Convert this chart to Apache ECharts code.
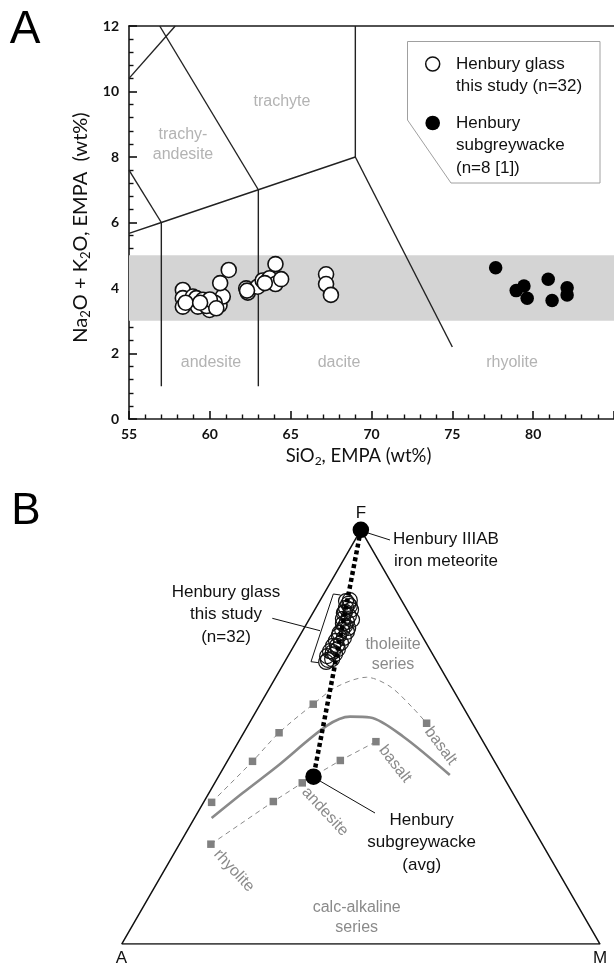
<!DOCTYPE html>
<html><head><meta charset="utf-8">
<script src="https://cdn.jsdelivr.net/npm/echarts@6/dist/echarts.min.js"></script>
<style>html,body{margin:0;padding:0;background:#fff}#c{width:614px;height:968px}</style>
</head><body><div id="c"></div>
<script>
// ---------- Panel A: TAS diagram ----------
const xTicks = [55, 60, 65, 70, 75, 80];
const yTicks = [0, 2, 4, 6, 8, 10, 12];
const glassSiO2 = [58.33,58.33,58.33,58.95,59.16,59.26,59.57,59.98,60.09,60.60,60.80,60.64,61.17,62.25,62.35,62.96,63.27,63.69,64.06,64.06,64.41,67.19,67.19,67.49,59.8,60.3,58.5,60.0,62.3,63.4,59.4,60.4];
const glassAlk  = [3.94,3.69,3.43,3.74,3.69,3.43,3.64,3.33,3.59,3.48,3.74,4.15,4.55,3.99,3.86,4.04,4.23,4.30,4.73,4.12,4.27,4.42,4.12,3.79,3.45,3.55,3.55,3.65,3.92,4.15,3.55,3.38];
const sgwSiO2 = [77.68,78.95,79.43,79.63,80.93,81.17,82.1,82.1];
const sgwAlk  = [4.62,3.92,4.06,3.69,4.27,3.62,4.01,3.79];
const bandRange = [3, 5];
const tasLines = [
  [[57,1],[57,6]],
  [[63,1],[63,7]],
  [[55,5.67],[57,6],[63,7],[69,8]],
  [[69,8],[75,2.2]],
  [[69,8],[69,12]],
  [[55,7.6],[57,6]],
  [[63,7],[56.9,12]],
  [[55,10.4],[57.86,12]]
];

// ---------- Panel B: AFM ternary (A, F, M in %) ----------
const glassA = [10.8,11.6,12.5,11.7,13.6,12.9,14.5,14.0,12.7,14.9,16.0,15.2,17.4,16.6,18.6,17.8,19.8,19.2,21.1,20.4,22.3,21.6,23.2,11.7,11.5,15.1,14.5,16.9,19.0,22.6,13.2,20.6];
const glassF = [83.0,82.1,81.1,80.6,79.9,79.2,78.5,77.7,78.2,76.8,75.8,75.3,74.4,73.9,73.2,72.7,72.0,71.2,70.7,70.0,69.5,68.8,68.1,82.8,81.6,77.3,76.3,75.1,72.0,68.6,80.2,70.5];
const glassM = [6.2,6.3,6.3,7.6,6.5,7.9,7.0,8.2,9.0,8.3,8.2,9.4,8.2,9.5,8.2,9.5,8.2,9.6,8.2,9.6,8.2,9.6,8.7,5.5,6.9,7.6,9.2,8.0,9.0,8.8,6.6,8.9];
const meteoriteAFM = [0, 100, 0];
const subgreywackeAFM = [39.7, 40.4, 19.9];
const triangleAFM = [[100,0,0],[0,0,100],[0,100,0],[100,0,0]];
const boundaryAFM = [[66.0,30.4,3.6],[56.4,36.5,7.1],[46.2,42.8,11.0],[30.8,52.6,16.5],[24.8,54.9,20.3],[20.7,54.7,24.6],[16.1,50.1,33.9],[11.0,40.8,48.2]];
const tholeiiteTrendAFM = [[64.1,34.2,1.7],[50.6,44.1,5.3],[41.6,51.0,7.4],[31.0,57.9,11.1],[24.0,62.1,13.9],[16.6,64.4,19.0],[12.8,62.1,25.0],[10.6,56.9,32.5],[9.6,53.3,37.1]];
const tholeiiteSquaresAFM = [[64.1,34.2,1.7],[50.6,44.1,5.3],[41.6,51.0,7.4],[31.0,57.9,11.1],[9.6,53.3,37.1]];
const calcAlkTrendAFM = [[69.3,24.1,6.6],[51.1,34.4,14.5],[42.8,38.9,18.3],[32.2,44.4,23.6],[22.4,48.8,28.7]];

const H = Math.sqrt(3) / 2;
function tern(p) { const s = p[0] + p[1] + p[2]; return [(p[2] + p[1] / 2) / s, p[1] / s * H]; }
const zip = (a, b) => a.map((v, i) => [v, b[i]]);

const LS = '"Liberation Sans", Arial, sans-serif';
const CAL = 'Lato, "Liberation Sans", sans-serif';
const chart = echarts.init(document.getElementById('c'), null, { renderer: 'canvas' });

const tasSeries = tasLines.map(seg => ({
  type: 'line', xAxisIndex: 0, yAxisIndex: 0, data: seg, symbol: 'none', silent: true, z: 2,
  lineStyle: { color: '#222', width: 1.4 }, animation: false
}));

const regionText = (t, x, y) => ({ type: 'text', x, y, z: 3, style: { text: t, fill: '#b3b3b3', font: '16px ' + LS, align: 'center', verticalAlign: 'middle', lineHeight: 20 } });
const grayText = (t, x, y, rot) => ({ type: 'text', x, y, rotation: rot || 0, z: 3, style: { text: t, fill: '#8a8a8a', font: '16px ' + LS, align: 'center', verticalAlign: 'middle', lineHeight: 20 } });
const blackText = (t, x, y, align) => ({ type: 'text', x, y, z: 30, style: { text: t, fill: '#111', font: '17px ' + LS, align: align || 'center', verticalAlign: 'middle', lineHeight: 22.5 } });
const seg = (pts, w) => ({ type: 'polyline', z: 30, shape: { points: pts }, style: { stroke: '#111', lineWidth: w || 1, fill: null } });
const deg = d => d * Math.PI / 180;

const option = {
  animation: false,
  backgroundColor: '#fff',
  grid: [
    { left: 129, top: 26, width: 485, height: 393 },
    { left: 121.7, top: 529.8, width: 478.3, height: 414.2 }
  ],
  xAxis: [
    { gridIndex: 0, type: 'value', min: xTicks[0], max: 85, interval: xTicks[1] - xTicks[0],
      axisLine: { show: true, onZero: false, lineStyle: { color: '#1a1a1a', width: 1.6 } },
      axisTick: { show: true, inside: true, length: 8, lineStyle: { color: '#111', width: 1.6 } },
      minorTick: { show: true, splitNumber: 5, length: 4.5, lineStyle: { color: '#111', width: 1.4 } },
      splitLine: { show: false },
      axisLabel: { showMaxLabel: false, fontFamily: CAL, fontWeight: 'bold', fontSize: 14, color: '#111', margin: 8 },
      name: 'SiO{s|2}, EMPA (wt%)', nameLocation: 'middle', nameGap: 26,
      nameTextStyle: { fontFamily: CAL, fontSize: 18.5, color: '#111', lineHeight: 22, padding: [0, 26, 0, 0],
        rich: { s: { fontFamily: CAL, fontSize: 12, lineHeight: 12, verticalAlign: 'bottom' } } } },
    { gridIndex: 0, type: 'value', position: 'top', min: xTicks[0], max: 85,
      axisLine: { show: true, onZero: false, lineStyle: { color: '#1a1a1a', width: 1.6 } }, axisTick: { show: false }, axisLabel: { show: false }, splitLine: { show: false } },
    { gridIndex: 1, type: 'value', min: 0, max: 1, show: false }
  ],
  yAxis: [
    { gridIndex: 0, type: 'value', min: yTicks[0], max: yTicks[yTicks.length - 1], interval: yTicks[1] - yTicks[0],
      axisLine: { show: true, onZero: false, lineStyle: { color: '#1a1a1a', width: 1.6 } },
      axisTick: { show: true, inside: true, length: 8, lineStyle: { color: '#111', width: 1.6 } },
      minorTick: { show: true, splitNumber: 5, length: 4.5, lineStyle: { color: '#111', width: 1.4 } },
      splitLine: { show: false },
      axisLabel: { fontFamily: CAL, fontWeight: 'bold', fontSize: 14, color: '#111', margin: 10 },
      name: 'Na{s|2}O + K{s|2}O, EMPA  (wt%)', nameLocation: 'middle', nameGap: 35,
      nameTextStyle: { fontFamily: CAL, fontSize: 20, color: '#111', lineHeight: 22, padding: [0, 10, 0, 0],
        rich: { s: { fontFamily: CAL, fontSize: 13, lineHeight: 12, verticalAlign: 'bottom' } } } },
    { gridIndex: 1, type: 'value', min: 0, max: H, show: false }
  ],
  series: [
    { type: 'line', xAxisIndex: 0, yAxisIndex: 0, data: [[xTicks[0], bandRange[0]], [85, bandRange[0]]], symbol: 'none', z: 1,
      lineStyle: { opacity: 0 }, silent: true,
      markArea: { silent: true, itemStyle: { color: '#d4d4d4' }, data: [[{ yAxis: bandRange[0] }, { yAxis: bandRange[1] }]] } },
    ...tasSeries,
    { name: 'Henbury glass', type: 'scatter', xAxisIndex: 0, yAxisIndex: 0, data: zip(glassSiO2, glassAlk), symbolSize: 15, z: 5,
      itemStyle: { color: '#fff', borderColor: '#111', borderWidth: 1.6, opacity: 1 } },
    { name: 'Henbury subgreywacke', type: 'scatter', xAxisIndex: 0, yAxisIndex: 0, data: zip(sgwSiO2, sgwAlk), symbolSize: 13.5, z: 5,
      itemStyle: { color: '#000', opacity: 1 } },

    // Panel B
    { type: 'line', xAxisIndex: 2, yAxisIndex: 1, data: triangleAFM.map(tern), symbol: 'none', z: 2,
      lineStyle: { color: '#111', width: 1.5 } },
    { type: 'line', xAxisIndex: 2, yAxisIndex: 1, data: boundaryAFM.map(tern), symbol: 'none', smooth: 0.3, z: 2,
      lineStyle: { color: '#8a8a8a', width: 2.6 } },
    { type: 'line', xAxisIndex: 2, yAxisIndex: 1, data: tholeiiteTrendAFM.map(tern), symbol: 'none', smooth: 0.3, z: 2,
      lineStyle: { color: '#8a8a8a', width: 1, type: [5, 4] } },
    { type: 'scatter', xAxisIndex: 2, yAxisIndex: 1, data: tholeiiteSquaresAFM.map(tern), symbol: 'rect', symbolSize: 7.5, z: 3,
      itemStyle: { color: '#808080', opacity: 1 } },
    { type: 'line', xAxisIndex: 2, yAxisIndex: 1, data: calcAlkTrendAFM.map(tern), symbol: 'rect', symbolSize: 7.5, showSymbol: true, z: 3,
      itemStyle: { color: '#808080', opacity: 1 }, lineStyle: { color: '#8a8a8a', width: 1, type: [5, 4] } },
    { type: 'scatter', xAxisIndex: 2, yAxisIndex: 1, data: glassA.map((a, i) => tern([a, glassF[i], glassM[i]])), symbolSize: 15, z: 4,
      itemStyle: { color: 'rgba(255,255,255,0)', borderColor: '#111', borderWidth: 1.2, opacity: 1 } },
    { type: 'line', xAxisIndex: 2, yAxisIndex: 1, data: [tern(meteoriteAFM), tern(subgreywackeAFM)], symbol: 'none', z: 5,
      lineStyle: { color: '#000', width: 4.5, type: [4, 3], cap: 'butt' } },
    { type: 'scatter', xAxisIndex: 2, yAxisIndex: 1, data: [tern(meteoriteAFM), tern(subgreywackeAFM)], symbolSize: 16.5, z: 6,
      itemStyle: { color: '#000', opacity: 1 } }
  ],
  graphic: [
    { type: 'text', x: 25, y: 30, z: 30, style: { text: 'A', font: '46px ' + LS, fill: '#000', align: 'center', verticalAlign: 'middle' } },
    { type: 'text', x: 26, y: 512, z: 30, style: { text: 'B', font: '44px ' + LS, fill: '#000', align: 'center', verticalAlign: 'middle' } },
    regionText('trachyte', 282, 102),
    regionText('trachy-\nandesite', 183, 145),
    regionText('andesite', 211, 363),
    regionText('dacite', 339, 363),
    regionText('rhyolite', 512, 363),
    { type: 'polygon', z: 20, shape: { points: [[407.5, 41.5], [600, 41.5], [600, 183], [451, 183], [407.5, 120]] }, style: { fill: '#fff', stroke: '#a0a0a0', lineWidth: 1 } },
    { type: 'circle', z: 21, shape: { cx: 432.7, cy: 64, r: 7 }, style: { fill: '#fff', stroke: '#111', lineWidth: 1.5 } },
    { type: 'circle', z: 21, shape: { cx: 432.7, cy: 123, r: 7.3 }, style: { fill: '#000' } },
    blackText('Henbury glass\nthis study (n=32)', 456, 75.5, 'left'),
    blackText('Henbury\nsubgreywacke\n(n=8 [1])', 456, 145.5, 'left'),
    blackText('F', 361, 513),
    blackText('A', 121.5, 958),
    blackText('M', 600, 958),
    blackText('Henbury IIIAB\niron meteorite', 446, 550.5),
    blackText('Henbury glass\nthis study\n(n=32)', 226, 614.5),
    blackText('Henbury\nsubgreywacke\n(avg)', 421.7, 842.5),
    seg([[368, 533], [390, 540]]),
    seg([[272.3, 618.3], [320, 630.7]]),
    seg([[340.5, 595], [333.3, 594], [311, 661.7], [318.5, 662.7]]),
    seg([[320, 781], [375, 813]]),
    grayText('tholeiite\nseries', 393, 655),
    grayText('calc-alkaline\nseries', 356.7, 918),
    grayText('basalt', 440.7, 746, -deg(53)),
    grayText('basalt', 395, 764, -deg(52)),
    grayText('andesite', 325, 811.7, -deg(47)),
    grayText('rhyolite', 234, 870.7, -deg(47))
  ]
};
chart.setOption(option);
</script>
</body></html>
